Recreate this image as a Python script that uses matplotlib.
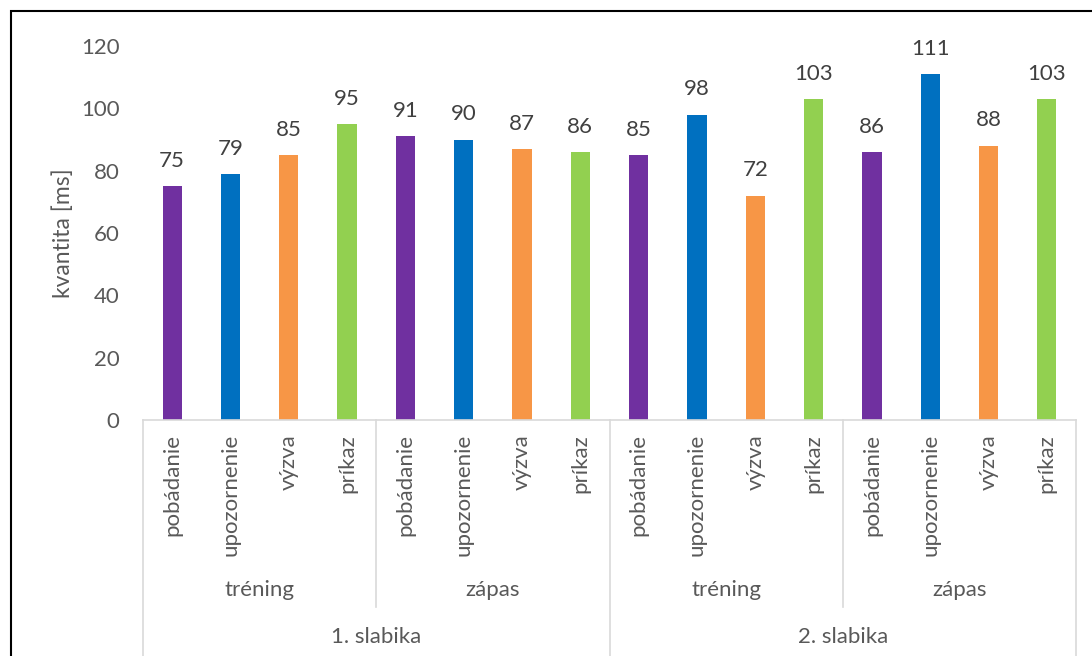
import matplotlib.pyplot as plt
import matplotlib.transforms as mtransforms
from matplotlib.patches import Rectangle
import numpy as np

plt.rcParams['font.family'] = ['Lato', 'DejaVu Sans']

# Dáta
slabiky = ['1. slabika', '2. slabika']
situacie = ['tréning', 'zápas']
typy = ['pobádanie', 'upozornenie', 'výzva', 'príkaz']
hodnoty = [75, 79, 85, 95,
           91, 90, 87, 86,
           85, 98, 72, 103,
           86, 111, 88, 103]
farby_typov = ['#7030A0', '#0070C0', '#F79646', '#92D050']

W, H = 1092, 656
fig = plt.figure(figsize=(W / 100, H / 100), dpi=100)
ax = fig.add_axes([143 / W, (H - 420) / H, (1076 - 143) / W, (420 - 46) / H])

n = len(hodnoty)
x = np.arange(n)
farby = [farby_typov[i % len(typy)] for i in range(n)]
bars = ax.bar(x, hodnoty, width=0.33, color=farby)

for b, v in zip(bars, hodnoty):
    ax.annotate(str(v), (b.get_x() + b.get_width() / 2, v), xytext=(0, 11),
                textcoords='offset points', ha='center', va='bottom',
                fontsize=16, color='#404040')

ax.set_xlim(-0.5, n - 0.5)
ax.set_ylim(0, 120)
ax.set_yticks(range(0, 121, 20))
ax.tick_params(axis='y', length=0, pad=17, labelsize=16, labelcolor='#595959')
ax.set_xticks([])
for s in ['left', 'right', 'top']:
    ax.spines[s].set_visible(False)
ax.spines['bottom'].set_color('#D9D9D9')
ax.spines['bottom'].set_linewidth(1.2)
ax.set_ylabel('kvantita [ms]', fontsize=16.5, color='#595959')
ax.yaxis.set_label_coords(-0.074, 0.5)

# viacúrovňová os kategórií
tr = mtransforms.blended_transform_factory(ax.transData, fig.transFigure)
for i in range(n):
    ax.text(x[i], (H - 434) / H, typy[i % len(typy)], transform=tr, rotation=90,
            ha='center', va='top', fontsize=16, color='#595959')

per_sit = len(typy)
per_slab = len(typy) * len(situacie)
for j in range(len(slabiky) * len(situacie)):
    stred = j * per_sit + (per_sit - 1) / 2
    ax.text(stred, (H - 590) / H, situacie[j % len(situacie)], transform=tr,
            ha='center', va='center', fontsize=16, color='#595959')
for k in range(len(slabiky)):
    stred = k * per_slab + (per_slab - 1) / 2
    ax.text(stred, (H - 637) / H, slabiky[k], transform=tr,
            ha='center', va='center', fontsize=16, color='#595959')

for j in range(len(slabiky) * len(situacie) + 1):
    xs = j * per_sit - 0.5
    dno = 0.0 if j % len(situacie) == 0 else (H - 607) / H
    ax.plot([xs, xs], [(H - 420) / H, dno], transform=tr, color='#D9D9D9',
            linewidth=1.2, clip_on=False)

fig.patches.append(Rectangle((11 / W, -0.1), 1.2, (H - 11) / H + 0.1,
                             transform=fig.transFigure, fill=False,
                             edgecolor='black', linewidth=1.5))

fig.savefig('out.png', dpi=100)
